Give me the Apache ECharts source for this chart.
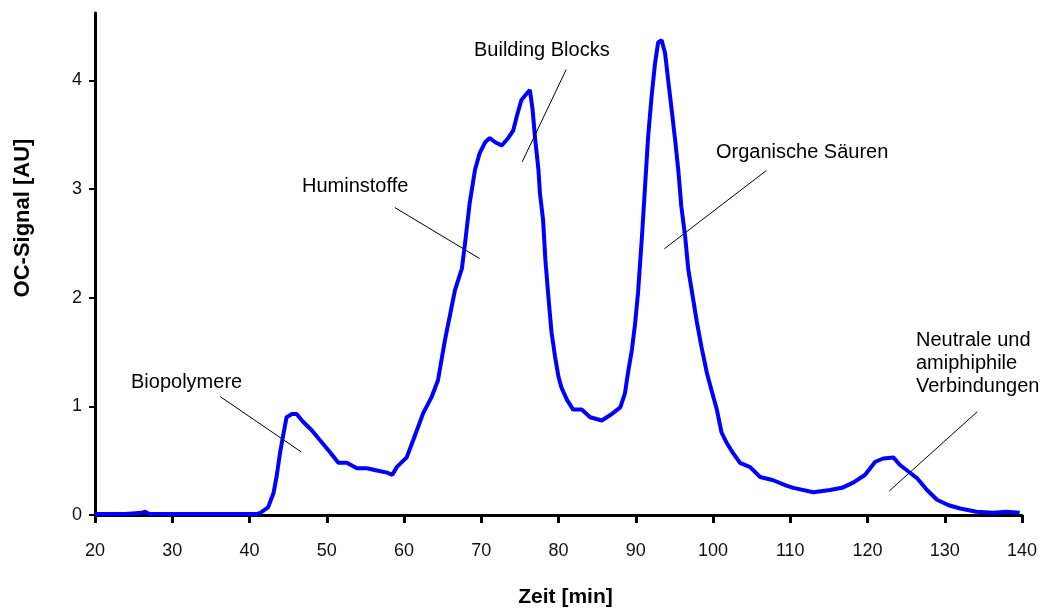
<!DOCTYPE html>
<html>
<head>
<meta charset="utf-8">
<script src="https://cdn.jsdelivr.net/npm/echarts@6/dist/echarts.min.js"></script>
<style>
  html, body { margin: 0; padding: 0; background: #fff; }
  #chart { width: 1046px; height: 608px; }
</style>
</head>
<body>
<div id="chart"></div>
<script>
// Zeit [min]
var time = [20, 22, 24, 26, 26.5, 27, 30, 33, 36, 39, 41, 41.4, 42.4, 43.1, 43.5, 43.95, 44.4, 44.8, 45.5, 46.1,
  46.9, 48.05, 49.1, 50.4, 51.5, 52.6, 53.9, 55.2, 56.5, 57.8, 58.5, 59.05, 60.35, 61.2, 62.5, 63.6, 64.4, 65.3,
  66.6, 67.5, 67.9, 68.5, 69.2, 69.8, 70.5, 71.1, 71.8, 72.65, 73.5, 74.15, 74.6, 75.2, 75.9, 76.3, 76.65, 76.95,
  77.4, 77.6, 78.0, 78.3, 78.7, 79.1, 79.55, 80.0, 80.4, 81.1, 81.9, 83.0, 84.1, 85.6, 86.7, 88.0, 88.6, 89.0,
  89.5, 89.9, 90.3, 90.8, 91.2, 91.6, 92.05, 92.5, 92.9, 93.35, 93.8, 94.2, 94.65, 95.1, 95.5, 95.9, 96.4, 96.8,
  97.4, 97.9, 98.5, 99.2, 99.8, 100.5, 101.1, 101.8, 102.6, 103.5, 104.8, 106.1, 107.8, 109.5, 110.4, 113.0,
  115.15, 116.7, 118.2, 119.7, 121.0, 122.05, 123.35, 124.2, 125.3, 126.4, 127.7, 129.0, 130.5, 132.0, 134.1,
  136.25, 138.0, 139.7]
// OC-Signal [AU]
var signal = [0.01, 0.01, 0.01, 0.02, 0.03, 0.01, 0.01, 0.01, 0.01, 0.01, 0.01, 0.02, 0.07, 0.2, 0.35, 0.57, 0.75, 0.9, 0.93, 0.93,
  0.86, 0.78, 0.69, 0.58, 0.48, 0.48, 0.43, 0.43, 0.41, 0.39, 0.37, 0.44, 0.53, 0.69, 0.94, 1.09, 1.24, 1.61,
  2.07, 2.27, 2.5, 2.87, 3.18, 3.33, 3.43, 3.47, 3.43, 3.4, 3.47, 3.54, 3.67, 3.82, 3.88, 3.91, 3.73, 3.48,
  3.18, 2.96, 2.72, 2.35, 2.0, 1.68, 1.46, 1.27, 1.17, 1.06, 0.97, 0.97, 0.9, 0.87, 0.92, 0.99, 1.12, 1.31,
  1.52, 1.75, 2.05, 2.56, 3.02, 3.48, 3.85, 4.16, 4.35, 4.37, 4.25, 4.0, 3.73, 3.45, 3.18, 2.84, 2.56, 2.26,
  2.0, 1.78, 1.55, 1.31, 1.15, 0.97, 0.76, 0.66, 0.57, 0.48, 0.44, 0.35, 0.32, 0.27, 0.25, 0.21,
  0.23, 0.25, 0.3, 0.37, 0.49, 0.52, 0.53, 0.46, 0.4, 0.34, 0.23, 0.14, 0.09, 0.06, 0.03,
  0.02, 0.03, 0.02]

var yTicks = [0, 1, 2, 3, 4]

// Beschriftungen und ihre Hinweislinien (Datenkoordinaten)
var labelTexts = ['Biopolymere', 'Huminstoffe', 'Building Blocks', 'Organische Säuren', 'Neutrale und\namiphiphile\nVerbindungen']
var pointerFrom = [[36.2, 1.09], [58.8, 2.83], [81.0, 4.10], [106.9, 3.17], [134.2, 0.95]]
var pointerTo = [[46.7, 0.58], [69.8, 2.36], [75.3, 3.25], [93.7, 2.45], [122.8, 0.22]]

var fontFam = 'Arial, "Liberation Sans", sans-serif'
var labelPos = [[131, 382], [302, 186], [474, 50], [716, 152], [916, 341]]

var myChart = echarts.init(document.getElementById('chart'))

var seriesData = time.map(function (t, i) { return [t, signal[i]] })
var lines = pointerFrom.map(function (p, i) {
  return [{ coord: p }, { coord: pointerTo[i] }]
})

var texts = labelTexts.map(function (s, i) {
  return {
    type: 'text',
    x: labelPos[i][0],
    y: labelPos[i][1],
    style: {
      text: s,
      font: '20px ' + fontFam,
      fill: '#000',
      verticalAlign: 'middle',
      lineHeight: 23
    },
    z: 100
  }
})
// mehrzeilige Beschriftung: an erster Zeile ausrichten
texts[4].style.verticalAlign = 'top'
texts[4].y = labelPos[4][1] - 12

texts.push({
  type: 'text',
  x: 23,
  y: 218,
  rotation: Math.PI / 2,
  style: {
    text: 'OC-Signal [AU]',
    font: 'bold 22px ' + fontFam,
    fill: '#000',
    align: 'center',
    verticalAlign: 'middle'
  }
})

myChart.setOption({
  animation: false,
  backgroundColor: '#fff',
  grid: {
    left: 95,
    right: 24,
    top: 13,
    bottom: 93,
    outerBoundsMode: 'none',
    containLabel: false
  },
  graphic: texts,
  xAxis: {
    type: 'value',
    min: 20,
    max: 140,
    interval: 10,
    name: 'Zeit [min]',
    nameLocation: 'middle',
    nameGap: 72,
    nameTextStyle: {
      fontFamily: fontFam,
      fontSize: 21,
      fontWeight: 'bold',
      color: '#000',
      padding: [0, 0, 0, 14]
    },
    axisLine: {
      show: true,
      onZero: false,
      lineStyle: { color: '#000', width: 3 }
    },
    axisTick: {
      show: true,
      length: 8,
      lineStyle: { color: '#000', width: 3 }
    },
    axisLabel: {
      fontFamily: fontFam,
      fontSize: 18,
      color: '#111',
      margin: 27
    },
    splitLine: { show: false }
  },
  yAxis: {
    type: 'value',
    min: 0,
    max: 4.62,
    axisLine: {
      show: true,
      lineStyle: { color: '#000', width: 3 }
    },
    axisTick: {
      show: true,
      length: 6,
      customValues: yTicks,
      lineStyle: { color: '#000', width: 2 }
    },
    axisLabel: {
      fontFamily: fontFam,
      fontSize: 18,
      color: '#111',
      margin: 13,
      customValues: yTicks
    },
    splitLine: { show: false }
  },
  series: [{
    type: 'line',
    data: seriesData,
    showSymbol: false,
    symbol: 'none',
    z: 1,
    lineStyle: {
      color: '#0000ff',
      width: 4
    },
    markLine: {
      silent: true,
      symbol: 'none',
      label: { show: false },
      lineStyle: { color: '#000', width: 1, type: 'solid' },
      data: lines
    }
  }]
})
window.onresize = myChart.resize
</script>
</body>
</html>
